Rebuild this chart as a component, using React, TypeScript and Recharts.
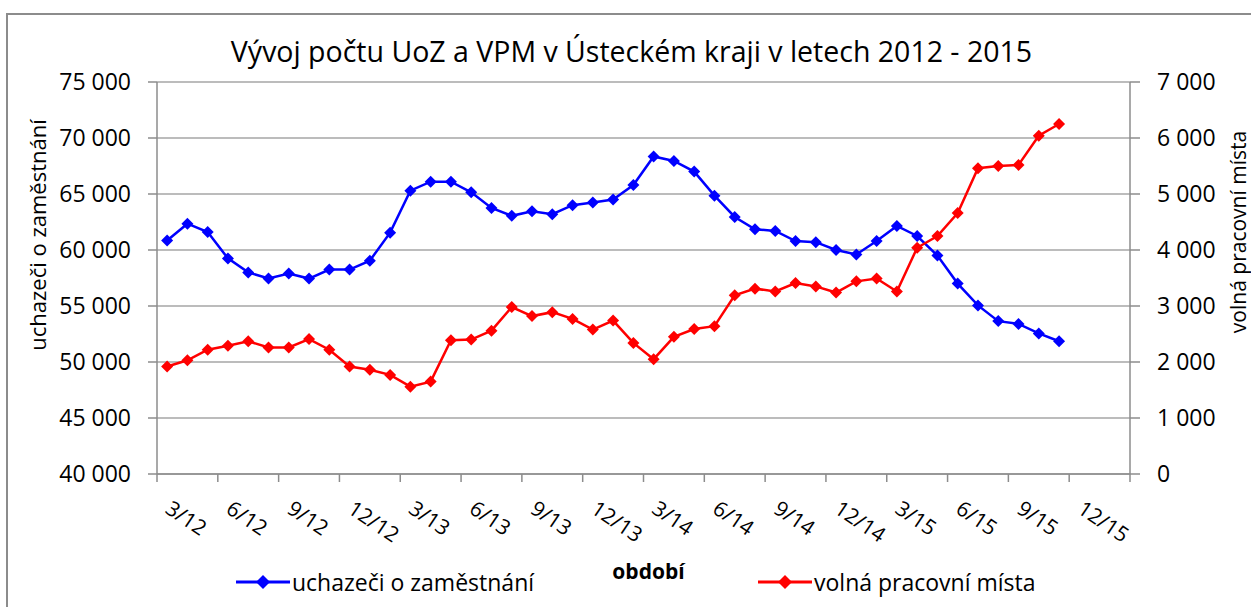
import React from 'react';
import { LineChart, Line, XAxis, YAxis, CartesianGrid, Legend } from 'recharts';

// kategorie (měsíce) na ose x – 48 pozic, data pokrývají prvních 45
const months = [
  '3/12', '4/12', '5/12', '6/12', '7/12', '8/12', '9/12', '10/12', '11/12', '12/12', '1/13', '2/13',
  '3/13', '4/13', '5/13', '6/13', '7/13', '8/13', '9/13', '10/13', '11/13', '12/13', '1/14', '2/14',
  '3/14', '4/14', '5/14', '6/14', '7/14', '8/14', '9/14', '10/14', '11/14', '12/14', '1/15', '2/15',
  '3/15', '4/15', '5/15', '6/15', '7/15', '8/15', '9/15', '10/15', '11/15', '12/15', '1/16', '2/16',
];

const tickLabels = [
  '3/12', '6/12', '9/12', '12/12', '3/13', '6/13', '9/13', '12/13',
  '3/14', '6/14', '9/14', '12/14', '3/15', '6/15', '9/15', '12/15',
];
const xTicks = [0, 3, 6, 9, 12, 15, 18, 21, 24, 27, 30, 33, 36, 39, 42, 45, 48];

const leftTicks = [40000, 45000, 50000, 55000, 60000, 65000, 70000, 75000];
const rightTicks = [0, 1000, 2000, 3000, 4000, 5000, 6000, 7000];

// uchazeči o zaměstnání
const uchazeci = [
  60850, 62350, 61600, 59250, 58000, 57450, 57900, 57450, 58250, 58250,
  59050, 61550, 65300, 66100, 66100, 65150, 63750, 63050, 63450, 63200,
  64000, 64250, 64500, 65800, 68350, 67950, 67000, 64850, 62950, 61850,
  61700, 60800, 60700, 60000, 59600, 60800, 62150, 61250, 59500, 57000,
  55050, 53650, 53400, 52550, 51850,
];

// volná pracovní místa
const volnaMista = [
  1920, 2030, 2220, 2290, 2370, 2260, 2260, 2410, 2220, 1920,
  1860, 1770, 1560, 1650, 2390, 2400, 2560, 2980, 2820, 2890,
  2770, 2580, 2740, 2340, 2050, 2450, 2590, 2640, 3190, 3310,
  3260, 3410, 3350, 3240, 3440, 3490, 3260, 4040, 4250, 4660,
  5460, 5500, 5520, 6040, 6250,
];

const data = uchazeci.map((u, i) => ({
  month: months[i],
  x: i + 0.5,
  uoz: u,
  vpm: volnaMista[i],
}));

const FONT = '"Open Sans", sans-serif';
const AXIS_GRAY = '#8c8c8c';

const fmt = (v: number) => String(v).replace(/\B(?=(\d{3})+(?!\d))/g, ' ');

const diamond = (color: string, r = 6) => (props: any) => {
  const { cx, cy, index } = props;
  if (cx == null || cy == null) return <g key={index} />;
  return (
    <polygon
      key={index}
      points={`${cx},${cy - r} ${cx + r},${cy} ${cx},${cy + r} ${cx - r},${cy}`}
      fill={color}
    />
  );
};

const XTick = ({ x, y, payload }: any) => {
  const label = tickLabels[payload.value / 3];
  if (!label) return null;
  return (
    <g transform={`translate(${x + 7},${y + 28}) rotate(34)`}>
      <text x={0} y={0} fontSize={21} fill="#000" fontFamily={FONT} textAnchor="start">
        {label}
      </text>
    </g>
  );
};

const legendLeft = [236, 758];

const renderLegend = ({ payload }: any) => (
  <div style={{ position: 'relative', height: 32, fontFamily: FONT }}>
    {(payload || []).map((p: any, i: number) => (
      <div
        key={p.value}
        style={{ position: 'absolute', left: legendLeft[i], top: 0, display: 'flex', alignItems: 'center' }}
      >
        <svg width={54} height={20}>
          <line x1={0} y1={10} x2={54} y2={10} stroke={p.color} strokeWidth={3} />
          <polygon points="27,3 34,10 27,17 20,10" fill={p.color} />
        </svg>
        <span style={{ fontSize: 23, marginLeft: 2, color: '#000' }}>{p.value}</span>
      </div>
    ))}
  </div>
);

export default function App() {
  return (
    <div style={{ position: 'absolute', left: 0, top: 0, width: 1251, height: 607, background: '#fff', fontFamily: FONT }}>
      <div
        style={{
          position: 'absolute', left: 6, top: 13, width: 1260, height: 620,
          borderLeft: `2px solid ${AXIS_GRAY}`, borderTop: `2px solid ${AXIS_GRAY}`,
        }}
      />
      <div
        style={{
          position: 'absolute', left: 0, top: 34, width: 1263, textAlign: 'center',
          fontSize: 28.5, lineHeight: '34px', color: '#000',
        }}
      >
        Vývoj počtu UoZ a VPM v Ústeckém kraji v letech 2012 - 2015
      </div>
      <LineChart
        width={1251}
        height={607}
        data={data}
        margin={{ top: 82, right: 0, left: 0, bottom: 0 }}
        style={{ position: 'absolute', left: 0, top: 0 }}
      >
        <CartesianGrid yAxisId="left" vertical={false} stroke="#a6a6a6" strokeWidth={1.5} />
        <XAxis
          type="number"
          dataKey="x"
          domain={[0, 48]}
          ticks={xTicks}
          interval={0}
          height={133}
          stroke={AXIS_GRAY}
          strokeWidth={1.5}
          tickSize={8}
          tick={<XTick />}
          label={{
            content: ({ viewBox }: any) => (
              <text
                x={viewBox.x + viewBox.width / 2 + 5}
                y={579}
                textAnchor="middle"
                fontSize={21}
                fontWeight="bold"
                fontFamily={FONT}
                fill="#000"
              >
                období
              </text>
            ),
          }}
        />
        <YAxis
          yAxisId="left"
          orientation="left"
          width={157}
          domain={[40000, 75000]}
          ticks={leftTicks}
          interval={0}
          tickFormatter={fmt}
          stroke={AXIS_GRAY}
          strokeWidth={1.5}
          tickSize={9}
          tickMargin={17}
          tick={{ fill: '#000', fontSize: 23, fontFamily: FONT }}
          label={{
            content: () => (
              <text
                x={37}
                y={235}
                transform="rotate(-90 37 235)"
                textAnchor="middle"
                dominantBaseline="central"
                fontSize={22}
                fontFamily={FONT}
                fill="#000"
              >
                uchazeči o zaměstnání
              </text>
            ),
          }}
        />
        <YAxis
          yAxisId="right"
          orientation="right"
          width={121}
          domain={[0, 7000]}
          ticks={rightTicks}
          interval={0}
          tickFormatter={fmt}
          stroke={AXIS_GRAY}
          strokeWidth={1.5}
          tickSize={10}
          tickMargin={17}
          tick={{ fill: '#000', fontSize: 23, fontFamily: FONT, textAnchor: 'start' }}
          label={{
            content: () => (
              <text
                x={1238}
                y={232}
                transform="rotate(-90 1238 232)"
                textAnchor="middle"
                dominantBaseline="central"
                fontSize={21}
                fontFamily={FONT}
                fill="#000"
              >
                volná pracovní místa
              </text>
            ),
          }}
        />
        <Legend
          layout="horizontal"
          verticalAlign="middle"
          align="center"
          wrapperStyle={{ top: 566, left: 0, width: 1251, height: 32 }}
          content={renderLegend}
        />
        <Line
          yAxisId="left"
          type="linear"
          dataKey="uoz"
          name="uchazeči o zaměstnání"
          stroke="#0000ff"
          strokeWidth={2.5}
          dot={diamond('#0000ff')}
          activeDot={false}
          isAnimationActive={false}
        />
        <Line
          yAxisId="right"
          type="linear"
          dataKey="vpm"
          name="volná pracovní místa"
          stroke="#ff0000"
          strokeWidth={2.5}
          dot={diamond('#ff0000')}
          activeDot={false}
          isAnimationActive={false}
        />
      </LineChart>
    </div>
  );
}
